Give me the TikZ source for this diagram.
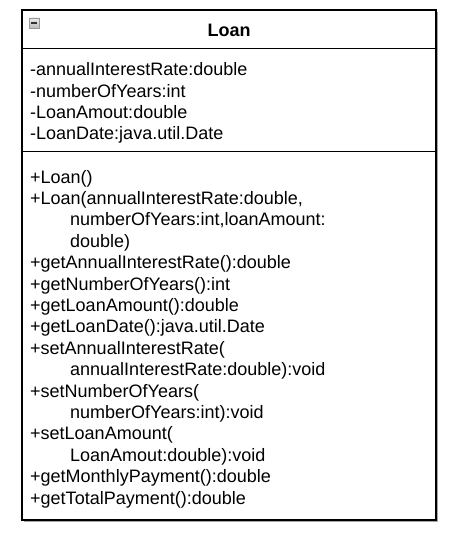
\documentclass[tikz,border=0pt]{standalone}
\usepackage{fontspec}
\setmainfont{Liberation Sans}
\begin{document}
\begin{tikzpicture}[x=1pt,y=-1pt,
  txt/.style={anchor=base west,inner sep=0pt,font=\fontsize{18}{21}\selectfont,text=black},
  ttl/.style={anchor=base,inner sep=0pt,font=\fontsize{18}{21}\selectfont\bfseries},
  frame/.style={draw=black,line width=1.6pt},
  shadow/.style={draw=gray!70,line width=1.6pt}]
\useasboundingbox (0,0) rectangle (462,540);
\fill[white] (0,0) rectangle (462,540);
% shadow
\draw[shadow] (437.5,12) -- (437.5,521.5) -- (24,521.5);
% box parts
\coordinate (tl) at (22,10);
\coordinate (br) at (436,520);
\draw[frame] (tl) rectangle (br);
\coordinate (s1l) at (22,48.5);
\coordinate (s1r) at (436,48.5);
\coordinate (s2l) at (22,151.5);
\coordinate (s2r) at (436,151.5);
\draw[frame] (s1l) -- (s1r);
\draw[frame] (s2l) -- (s2r);
% collapse icon
\shade[top color=gray!15,bottom color=gray!55,draw=gray!80,line width=0.8pt] (29,18) rectangle (39.5,28.5);
\draw[line width=1.6pt,black!80] (31.2,23.3) -- (37.3,23.3);
% title
\node[ttl] (title) at (229,37) {Loan};
% attributes
\node[txt] (a1) at (30,76) {-annualInterestRate:double};
\node[txt] (a2) at (30,97.3) {-numberOfYears:int};
\node[txt] (a3) at (30,118.6) {-LoanAmout:double};
\node[txt] (a4) at (30,139.9) {-LoanDate:java.util.Date};
% methods
\node[txt] (m1) at (30,183) {+Loan()};
\node[txt] (m2) at (30,204.4) {+Loan(annualInterestRate:double,};
\node[txt] (m3) at (70,225.8) {numberOfYears:int,loanAmount:};
\node[txt] (m4) at (70,247.2) {double)};
\node[txt] (m5) at (30,268.6) {+getAnnualInterestRate():double};
\node[txt] (m6) at (30,290.0) {+getNumberOfYears():int};
\node[txt] (m7) at (30,311.4) {+getLoanAmount():double};
\node[txt] (m8) at (30,332.8) {+getLoanDate():java.util.Date};
\node[txt] (m9) at (30,354.2) {+setAnnualInterestRate(};
\node[txt] (m10) at (70,375.6) {annualInterestRate:double):void};
\node[txt] (m11) at (30,397.0) {+setNumberOfYears(};
\node[txt] (m12) at (70,418.4) {numberOfYears:int):void};
\node[txt] (m13) at (30,439.8) {+setLoanAmount(};
\node[txt] (m14) at (70,461.2) {LoanAmout:double):void};
\node[txt] (m15) at (30,482.6) {+getMonthlyPayment():double};
\node[txt] (m16) at (30,504.0) {+getTotalPayment():double};
\end{tikzpicture}
\end{document}
